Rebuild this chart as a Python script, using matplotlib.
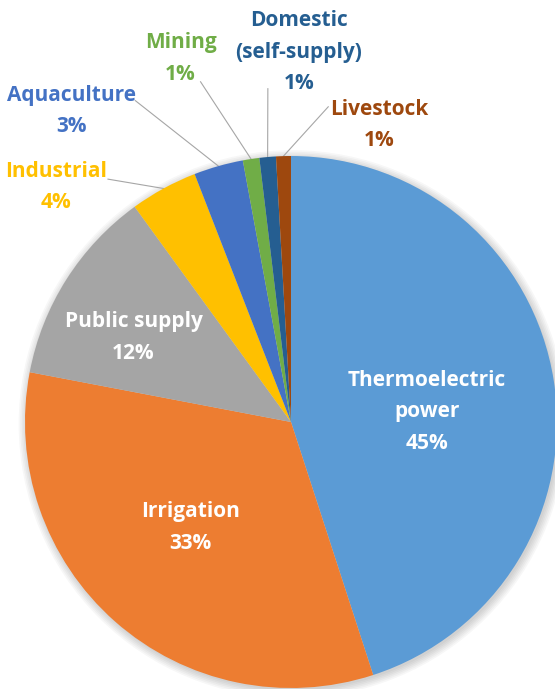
import matplotlib.pyplot as plt
from matplotlib.patches import Circle

# US water withdrawals by category (share of total, %)
categories = ["Thermoelectric\npower", "Irrigation", "Public supply", "Industrial",
              "Aquaculture", "Mining", "Domestic\n(self-supply)", "Livestock"]
shares = [45.0, 33.0, 12.0, 4.1, 3.0, 1.0, 1.0, 0.9]
colors = ["#5B9BD5", "#ED7D31", "#A5A5A5", "#FFC000",
          "#4472C4", "#70AD47", "#255E91", "#9E480E"]

# label placement (data units, pie radius = 1)
inside = [True, True, True, False, False, False, False, False]
label_pos = [(0.511, 0.038), (-0.377, -0.396), (-0.592, 0.317), (-0.883, 0.883),
             (-0.826, 1.170), (-0.415, 1.366), (0.030, 1.390), (0.331, 1.117)]
line_start = [None, None, None, (-0.688, 0.913), (-0.585, 1.208),
              (-0.340, 1.279), (-0.087, 1.253), (0.140, 1.185)]

fig = plt.figure(figsize=(5.55, 6.89), dpi=100)
ax = fig.add_axes([0, 0, 1, 1])

# soft shadow under the pie
for i in range(6):
    ax.add_patch(Circle((0.006, -0.008), 1.0 + 0.006 * i, color="#000000",
                        alpha=0.03, lw=0, zorder=0))

wedges, _ = ax.pie(shares, colors=colors, startangle=90, counterclock=False,
                   radius=1.0, wedgeprops=dict(linewidth=0))
for w in wedges:
    w.set_zorder(2)

import numpy as np
for w, name, v, c, ins, pos, st in zip(wedges, categories, shares, colors,
                                        inside, label_pos, line_start):
    txt = f"{name}\n{v:.0f}%"
    ax.text(pos[0], pos[1], txt, ha="center", va="center", fontsize=15,
            fontweight="bold", family="Open Sans", linespacing=1.65,
            color="white" if ins else c, zorder=5)
    if st is not None:
        mid = np.deg2rad((w.theta1 + w.theta2) / 2)
        ax.plot([st[0], np.cos(mid)], [st[1], np.sin(mid)],
                color="#A6A6A6", lw=0.8, zorder=1)

ax.set_xlim(-291 / 266, (555 - 291) / 266)
ax.set_ylim((422 - 689) / 266, 422 / 266)
ax.set_aspect("auto")
ax.axis("off")

fig.savefig("out.png", dpi=100)
